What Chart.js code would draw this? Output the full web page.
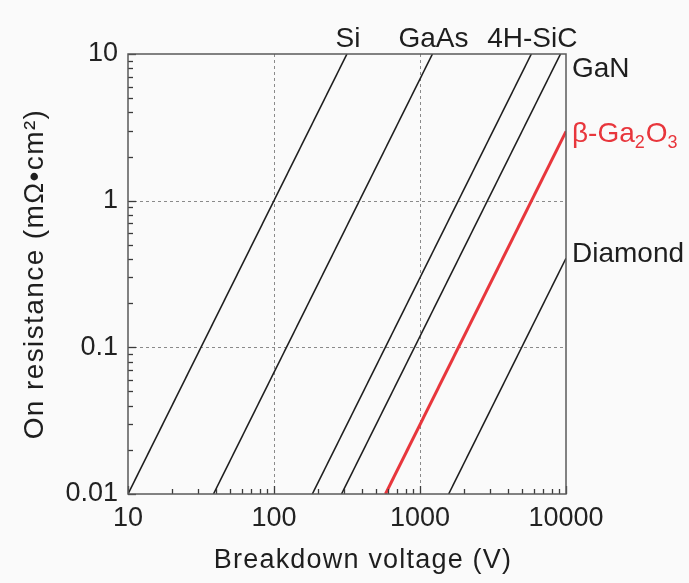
<!DOCTYPE html>
<html lang="en">
  <head>
    <meta charset="UTF-8" />
    <title>On resistance vs breakdown voltage</title>
    <style>
      body { margin: 0; background: #fafafa; }
      #chart { display: block; }
    </style>
  </head>
  <body>
    <canvas id="chart" width="689" height="583"></canvas>
    <script src="https://cdn.jsdelivr.net/npm/chart.js@4.4.1/dist/chart.umd.min.js"></script>
    <script>
      // unipolar limit lines
      const materials = ["Si", "GaAs", "4H-SiC", "GaN", "β-Ga2O3", "Diamond"];
      const startVoltage = [10, 38.5, 183, 290, 580, 1571];
      const startRon = [0.01, 0.01, 0.01, 0.01, 0.01, 0.01];
      const endVoltage = [316, 1217, 5790, 9170, 10000, 10000];
      const endRon = [10, 10, 10, 10, 2.97, 0.405];
      const xTicks = [10, 100, 1000, 10000];
      const yTicks = [0.01, 0.1, 1, 10];

      const highlight = "β-Ga2O3";
      const RED = "#e8363c";
      const INK = "#1e1e1e";
      const FONT = "'Liberation Sans', Arial, sans-serif";

      const isIn = (v, list) => list.some((t) => Math.abs(v / t - 1) < 1e-6);

      // 1..9 times each decade, for the small inward tick marks
      function minorValues(decades) {
        let out = [];
        decades.slice(0, -1).forEach((d) => {
          for (let k = 2; k <= 9; k++) out.push(k * d);
        });
        return out;
      }

      const datasets = materials.map((name, i) => ({
        label: name,
        data: [
          { x: startVoltage[i], y: startRon[i] },
          { x: endVoltage[i], y: endRon[i] },
        ],
        borderColor: name == highlight ? RED : INK,
        borderWidth: name == highlight ? 3 : 1.6,
        pointRadius: 0,
        tension: 0,
      }));

      const decorations = {
        id: "decorations",
        beforeDatasetsDraw(chart) {
          const { ctx, chartArea: a, scales } = chart;
          const x = scales.x, y = scales.y;
          ctx.save();
          // dashed grid at inner decades
          ctx.strokeStyle = "#8a8a8a";
          ctx.lineWidth = 1;
          ctx.setLineDash([3, 3]);
          xTicks.slice(1, -1).forEach((v) => {
            const px = Math.round(x.getPixelForValue(v)) + 0.5;
            ctx.beginPath();
            ctx.moveTo(px, a.top);
            ctx.lineTo(px, a.bottom);
            ctx.stroke();
          });
          yTicks.slice(1, -1).forEach((v) => {
            const py = Math.round(y.getPixelForValue(v)) + 0.5;
            ctx.beginPath();
            ctx.moveTo(a.left, py);
            ctx.lineTo(a.right, py);
            ctx.stroke();
          });
          ctx.restore();
        },
        afterDraw(chart) {
          const { ctx, chartArea: a, scales } = chart;
          const x = scales.x, y = scales.y;
          ctx.save();
          ctx.setLineDash([]);

          // inward tick marks on bottom and left
          ctx.strokeStyle = "#3a3a3a";
          ctx.lineWidth = 1.3;
          const xMarks = xTicks.map((v) => [v, 8]).concat(minorValues(xTicks).map((v) => [v, 5]));
          xMarks.forEach(([v, len]) => {
            const px = Math.round(x.getPixelForValue(v)) + 0.5;
            ctx.beginPath();
            ctx.moveTo(px, a.bottom);
            ctx.lineTo(px, a.bottom - len);
            ctx.stroke();
          });
          const yMarks = yTicks.map((v) => [v, 8]).concat(minorValues(yTicks).map((v) => [v, 5]));
          yMarks.forEach(([v, len]) => {
            const py = Math.round(y.getPixelForValue(v)) + 0.5;
            ctx.beginPath();
            ctx.moveTo(a.left, py);
            ctx.lineTo(a.left + len, py);
            ctx.stroke();
          });

          // frame
          ctx.strokeStyle = "#5a5a5a";
          ctx.lineWidth = 1.5;
          ctx.strokeRect(a.left, a.top, a.right - a.left, a.bottom - a.top);

          // material labels
          ctx.font = "28px " + FONT;
          ctx.fillStyle = INK;
          ctx.textBaseline = "alphabetic";
          materials.forEach((name, i) => {
            if (endRon[i] >= y.max && endVoltage[i] < 9000) {
              ctx.textAlign = "center";
              ctx.fillText(name, x.getPixelForValue(endVoltage[i]) + 1, a.top - 7);
            }
          });
          ctx.textAlign = "left";
          const rx = a.right + 6;
          ctx.fillText("GaN", rx, a.top + 23);
          ctx.fillText("Diamond", rx, y.getPixelForValue(endRon[5]) + 4);

          // β-Ga2O3 with subscripts
          let bx = rx;
          const by = y.getPixelForValue(endRon[4]) + 11;
          ctx.fillStyle = RED;
          const parts = [["β-Ga", 0], ["2", 1], ["O", 0], ["3", 1]];
          parts.forEach(([txt, sub]) => {
            ctx.font = (sub ? "18px " : "28px ") + FONT;
            ctx.fillText(txt, bx, by + (sub ? 6 : 0));
            bx += ctx.measureText(txt).width + (sub ? 1 : 0);
          });

          // axis titles
          ctx.fillStyle = INK;
          ctx.font = "27px " + FONT;
          ctx.letterSpacing = "1.2px";
          ctx.textAlign = "center";
          ctx.fillText("Breakdown voltage (V)", (a.left + a.right) / 2 + 16, 568);

          ctx.translate(35, (a.top + a.bottom) / 2);
          ctx.rotate(-Math.PI / 2);
          ctx.font = "28px " + FONT;
          ctx.letterSpacing = "1.4px";
          ctx.textBaseline = "middle";
          ctx.fillText("On resistance (mΩ•cm²)", 0, 0);
          ctx.restore();
        },
      };

      new Chart(document.getElementById("chart"), {
        type: "line",
        data: { datasets: datasets },
        plugins: [decorations],
        options: {
          responsive: false,
          animation: false,
          layout: { padding: { left: 0, right: 123, top: 54, bottom: 0 } },
          plugins: { legend: { display: false }, tooltip: { enabled: false } },
          scales: {
            x: {
              type: "logarithmic",
              min: 10,
              max: 10000,
              grid: { display: false, drawTicks: false },
              border: { display: false },
              afterFit: (s) => { s.height = 89; },
              ticks: {
                autoSkip: false,
                maxRotation: 0,
                padding: 8,
                color: "#222",
                font: { family: FONT, size: 27 },
                callback: (v) => (isIn(v, xTicks) ? String(v) : ""),
              },
            },
            y: {
              type: "logarithmic",
              min: 0.01,
              max: 10,
              grid: { display: false, drawTicks: false },
              border: { display: false },
              afterFit: (s) => { s.width = 128; },
              ticks: {
                autoSkip: false,
                padding: 10,
                color: "#222",
                font: { family: FONT, size: 27 },
                callback: (v) => (isIn(v, yTicks) ? String(v) : ""),
              },
            },
          },
        },
      });
    </script>
  </body>
</html>
